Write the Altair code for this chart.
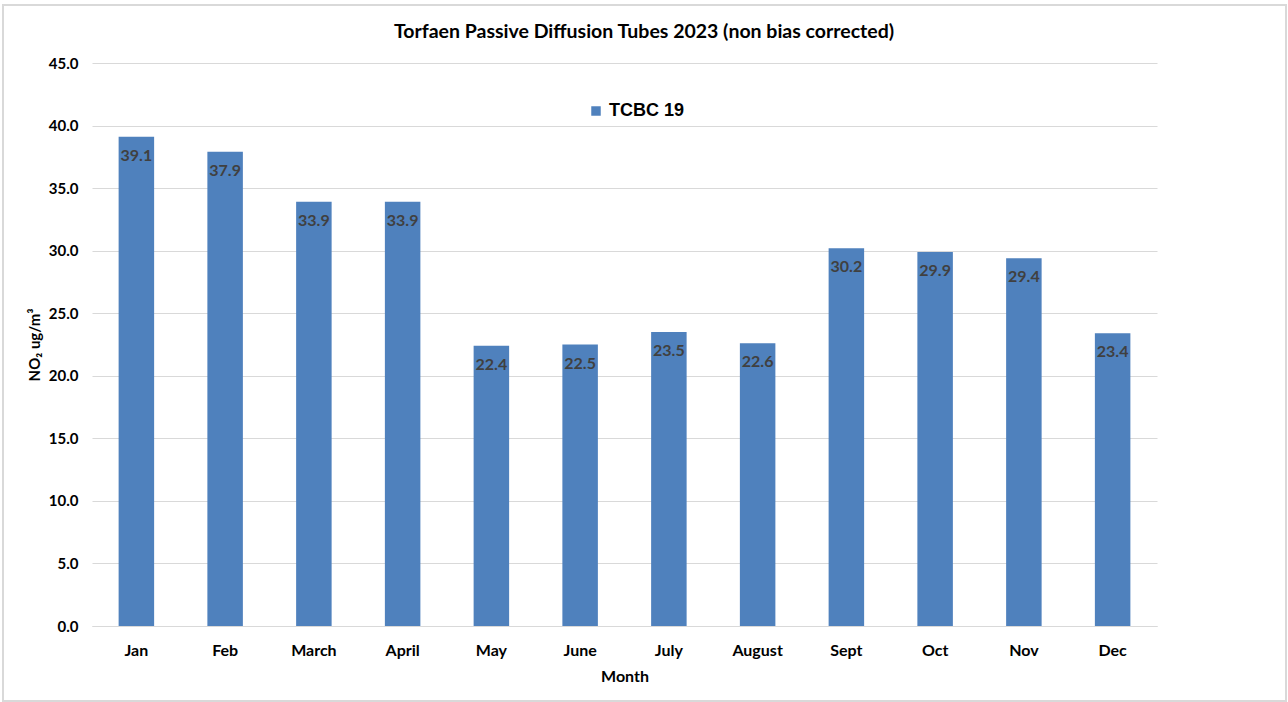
import altair as alt
import pandas as pd

months = ["Jan", "Feb", "March", "April", "May", "June", "July", "August",
          "Sept", "Oct", "Nov", "Dec"]
no2 = [39.1, 37.9, 33.9, 33.9, 22.4, 22.5, 23.5, 22.6, 30.2, 29.9, 29.4, 23.4]
series = "TCBC 19"
y_ticks = [0, 5, 10, 15, 20, 25, 30, 35, 40, 45]
title_text = "Torfaen Passive Diffusion Tubes 2023 (non bias corrected)"

df = pd.DataFrame({"Month": months, "NO2": no2, "Site": series})

FONT = "Lato"
BAR = "#4F81BD"
W, H = 1065, 563

x_enc = alt.X("Month:N", sort=months,
              scale=alt.Scale(paddingInner=0.6, paddingOuter=0.3),
              axis=alt.Axis(title="Month", labelAngle=0, labelFont=FONT,
                            labelFontSize=16, labelFontWeight="bold",
                            labelColor="#000000", labelPadding=16,
                            titleFont=FONT, titleFontSize=16,
                            titleFontWeight="bold", titleColor="#000000",
                            titlePadding=10, ticks=False, domainColor="#D9D9D9"))
y_enc = alt.Y("NO2:Q", scale=alt.Scale(domain=[0, 45], nice=False),
              axis=alt.Axis(title="NO₂ ug/m³", values=y_ticks, format=".1f",
                            labelFont=FONT, labelFontSize=15,
                            labelFontWeight="bold", labelColor="#000000",
                            labelPadding=14, ticks=False, domain=False,
                            gridColor="#D9D9D9", titleFont=FONT,
                            titleFontSize=15, titleFontWeight="bold",
                            titleColor="#000000", titlePadding=6))

bars = alt.Chart(df).mark_bar(color=BAR).encode(
    x=x_enc, y=y_enc,
    color=alt.Color("Site:N", scale=alt.Scale(range=[BAR]),
                    legend=alt.Legend(title=None, orient="none", legendX=495,
                                      legendY=39, symbolType="square",
                                      symbolSize=90, labelFont="Liberation Sans",
                                      labelFontSize=18, labelFontWeight="bold",
                                      labelColor="#000000")),
)

labels = alt.Chart(df).mark_text(baseline="top", dy=11, font=FONT, fontSize=16,
                                 fontWeight="bold", color="#404040").encode(
    x=alt.X("Month:N", sort=months), y="NO2:Q",
    text=alt.Text("NO2:Q", format=".1f"))

# light frame around the whole chart
frame = alt.Chart(df).mark_rect(fill=None, stroke="#D9D9D9", strokeWidth=1.5,
                                clip=False).encode(
    x=alt.value(-89), x2=alt.value(1194), y=alt.value(-58), y2=alt.value(638))

# chart heading, centred on the full canvas width
heading = alt.Chart(pd.DataFrame({"t": [title_text]})).mark_text(
    font=FONT, fontSize=19.5, fontWeight="bold", color="#000000",
    align="center", baseline="middle").encode(
    x=alt.value(552), y=alt.value(-31), text="t:N")

chart = alt.layer(frame, bars, labels, heading).properties(
    width=W, height=H,
    autosize=alt.AutoSizeParams(type="none"),
    padding={"left": 92, "top": 63, "right": 131, "bottom": 76},
).configure(background="#FFFFFF").configure_view(stroke=None)

chart.save("out.html", embed_options={"renderer": "svg", "actions": False})
